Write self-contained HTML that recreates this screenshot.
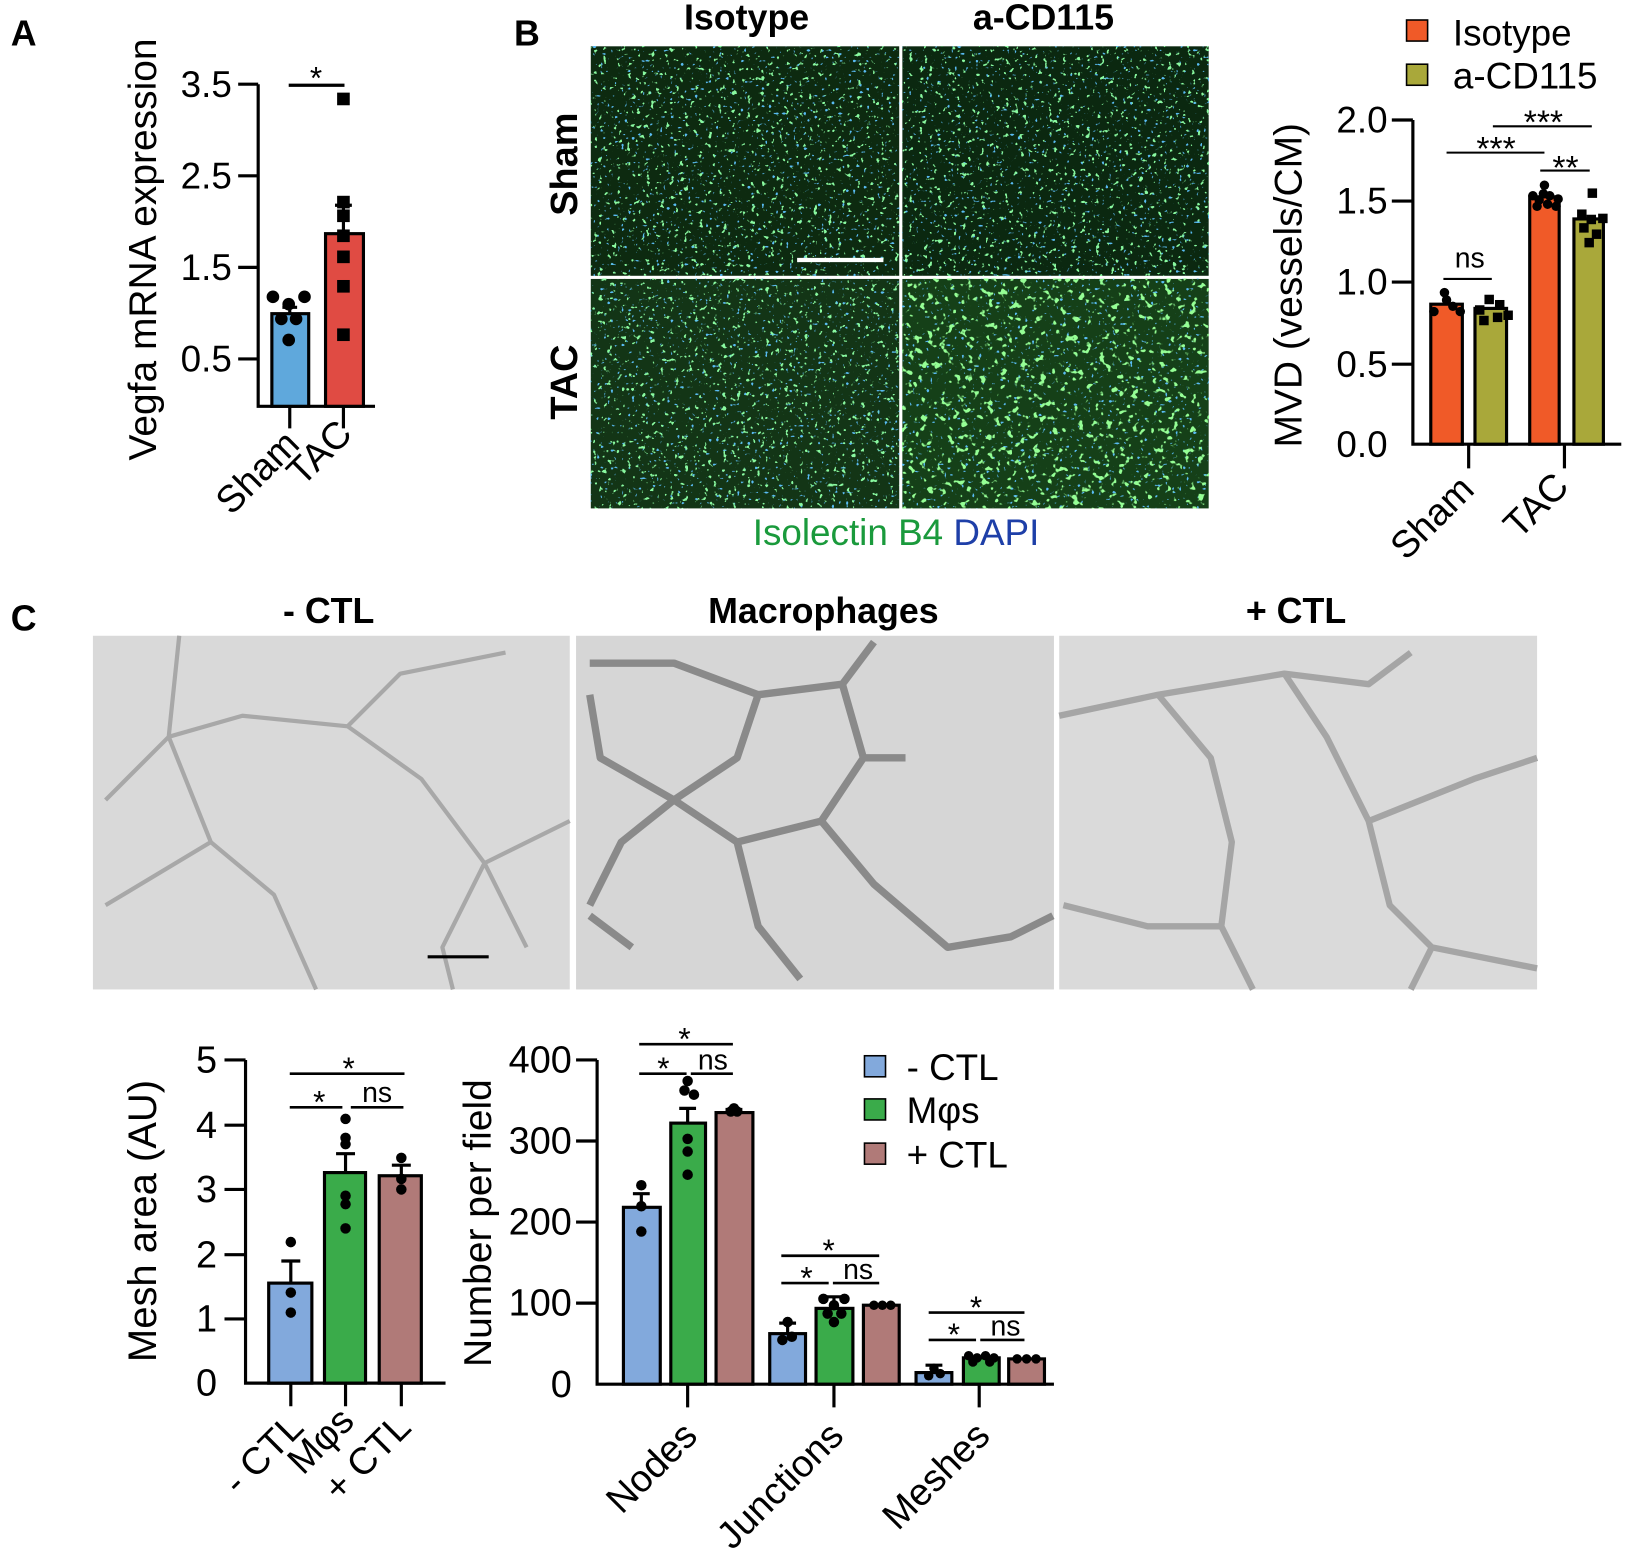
<!DOCTYPE html>
<html><head><meta charset="utf-8"><style>html,body{margin:0;padding:0;background:#fff}svg{display:block}</style></head>
<body>
<svg width="1650" height="1561" viewBox="0 0 1567 1483" xmlns="http://www.w3.org/2000/svg" font-family="Liberation Sans, Arial, sans-serif">
<defs>
<filter id="gs" x="0" y="0" width="100%" height="100%">
<feTurbulence type="fractalNoise" baseFrequency="0.22" numOctaves="2" seed="4"/>
<feColorMatrix type="matrix" values="0 0 0 0 0.25  0 0 0 0 0.95  0 0 0 0 0.35  16 0 0 0 -10.6"/>
</filter>
<filter id="bs" x="0" y="0" width="100%" height="100%">
<feTurbulence type="fractalNoise" baseFrequency="0.3" numOctaves="1" seed="9"/>
<feColorMatrix type="matrix" values="0 0 0 0 0.1  0 0 0 0 0.5  0 0 0 0 0.9  0 16 0 0 -10.8"/>
</filter>
<filter id="gs2" x="0" y="0" width="100%" height="100%">
<feTurbulence type="fractalNoise" baseFrequency="0.16" numOctaves="2" seed="7"/>
<feColorMatrix type="matrix" values="0 0 0 0 0.3  0 0 0 0 1  0 0 0 0 0.3  14 0 0 0 -8.6"/>
</filter>
</defs>
<rect width="1567" height="1483" fill="#fff"/>

<!-- Panel A -->
<text x="10" y="43" font-size="34" font-weight="bold">A</text>
<text transform="translate(148,237) rotate(-90)" text-anchor="middle" font-size="37">Vegfa mRNA expression</text>
<g font-size="35" text-anchor="end">
<text x="220" y="92">3.5</text><text x="220" y="179">2.5</text><text x="220" y="266">1.5</text><text x="220" y="353">0.5</text>
</g>
<g stroke="#000" stroke-width="3" fill="none">
<path d="M245 80 V386 H356"/>
<path d="M226 80H245M226 167H245M226 254H245M226 341H245"/>
<path d="M275 386V407M326 386V407"/>
<path d="M274 81H327"/>
</g>
<rect x="258" y="298" width="35" height="88" fill="#5fa8dc" stroke="#000" stroke-width="3"/>
<rect x="309" y="222" width="36" height="164" fill="#e04b43" stroke="#000" stroke-width="3"/>
<path d="M326 222V195M318 195H334M275 298V292M268 292H282" stroke="#000" stroke-width="3"/>
<g fill="#000">
<circle cx="259" cy="282" r="6"/><circle cx="289" cy="282" r="6"/><circle cx="274" cy="289" r="6"/><circle cx="267" cy="303" r="6"/><circle cx="281" cy="303" r="6"/><circle cx="274" cy="323" r="6"/>
<rect x="320" y="88" width="12" height="12"/><rect x="320" y="186" width="12" height="12"/><rect x="320" y="199" width="12" height="12"/><rect x="320" y="218" width="12" height="12"/><rect x="320" y="238" width="12" height="12"/><rect x="320" y="266" width="12" height="12"/><rect x="320" y="312" width="12" height="12"/>
</g>
<text x="300" y="84" font-size="30" text-anchor="middle">*</text>
<text transform="translate(286,424) rotate(-45)" text-anchor="end" font-size="36">Sham</text>
<text transform="translate(336,414) rotate(-45)" text-anchor="end" font-size="36">TAC</text>

<!-- Panel B images -->
<text x="488" y="43" font-size="34" font-weight="bold">B</text>
<text x="709" y="28" font-size="34" font-weight="bold" text-anchor="middle">Isotype</text>
<text x="991" y="28" font-size="34" font-weight="bold" text-anchor="middle">a-CD115</text>
<text transform="translate(548,156) rotate(-90)" text-anchor="middle" font-size="36" font-weight="bold">Sham</text>
<text transform="translate(548,363) rotate(-90)" text-anchor="middle" font-size="36" font-weight="bold">TAC</text>
<g>
<rect x="561" y="44" width="293" height="218" fill="#0d2a10"/>
<rect x="561" y="44" width="293" height="218" filter="url(#bs)"/>
<rect x="561" y="44" width="293" height="218" filter="url(#gs)"/>
<rect x="857" y="44" width="291" height="218" fill="#0b2810"/>
<rect x="857" y="44" width="291" height="218" filter="url(#bs)"/>
<rect x="857" y="44" width="291" height="218" filter="url(#gs)"/>
<rect x="561" y="265" width="293" height="218" fill="#133516"/>
<rect x="561" y="265" width="293" height="218" filter="url(#bs)"/>
<rect x="561" y="265" width="293" height="218" filter="url(#gs)"/>
<rect x="857" y="265" width="291" height="218" fill="#154018"/>
<rect x="857" y="265" width="291" height="218" filter="url(#bs)"/>
<rect x="857" y="265" width="291" height="218" filter="url(#gs2)"/>
<path d="M757 247H839" stroke="#fff" stroke-width="4"/>
</g>
<text x="851" y="518" font-size="35" text-anchor="middle"><tspan fill="#1a9a3c">Isolectin B4 </tspan><tspan fill="#1e3fa8">DAPI</tspan></text>

<!-- Panel B chart -->
<rect x="1336" y="19" width="20" height="20" fill="#f05a28" stroke="#000" stroke-width="1.5"/>
<rect x="1336" y="61" width="20" height="20" fill="#a9a83a" stroke="#000" stroke-width="1.5"/>
<text x="1380" y="43" font-size="35">Isotype</text>
<text x="1380" y="84" font-size="35">a-CD115</text>
<text transform="translate(1236,271) rotate(-90)" text-anchor="middle" font-size="37">MVD (vessels/CM)</text>
<g font-size="35" text-anchor="end">
<text x="1318" y="126">2.0</text><text x="1318" y="203">1.5</text><text x="1318" y="280">1.0</text><text x="1318" y="358">0.5</text><text x="1318" y="434">0.0</text>
</g>
<g stroke="#000" stroke-width="3" fill="none">
<path d="M1342 114V422H1540"/>
<path d="M1322 114H1342M1322 191H1342M1322 268H1342M1322 346H1342"/>
<path d="M1395 422V445M1486 422V445"/>
</g>
<rect x="1359" y="289" width="30" height="133" fill="#f05a28" stroke="#000" stroke-width="3"/>
<rect x="1401" y="293" width="30" height="129" fill="#a9a83a" stroke="#000" stroke-width="3"/>
<rect x="1453" y="187" width="28" height="235" fill="#f05a28" stroke="#000" stroke-width="3"/>
<rect x="1495" y="208" width="28" height="214" fill="#a9a83a" stroke="#000" stroke-width="3"/>
<g fill="#000">
<circle cx="1362" cy="296" r="4.5"/><circle cx="1374" cy="285" r="4.5"/><circle cx="1380" cy="291" r="4.5"/><circle cx="1387" cy="296" r="4.5"/><circle cx="1372" cy="278" r="4.5"/>
<rect x="1401" y="290" width="9" height="9"/><rect x="1410" y="280" width="9" height="9"/><rect x="1420" y="285" width="9" height="9"/><rect x="1428" y="295" width="9" height="9"/><rect x="1405" y="300" width="9" height="9"/><rect x="1418" y="297" width="9" height="9"/>
<circle cx="1467" cy="176" r="4.5"/><circle cx="1456" cy="186" r="4.5"/><circle cx="1462" cy="190" r="4.5"/><circle cx="1472" cy="186" r="4.5"/><circle cx="1480" cy="189" r="4.5"/><circle cx="1460" cy="196" r="4.5"/><circle cx="1470" cy="194" r="4.5"/><circle cx="1478" cy="196" r="4.5"/><circle cx="1466" cy="184" r="4.5"/>
<rect x="1508" y="179" width="9" height="9"/><rect x="1498" y="199" width="9" height="9"/><rect x="1507" y="204" width="9" height="9"/><rect x="1518" y="203" width="9" height="9"/><rect x="1500" y="212" width="9" height="9"/><rect x="1512" y="218" width="9" height="9"/><rect x="1505" y="226" width="9" height="9"/>
</g>
<g stroke="#000" stroke-width="2" fill="none">
<path d="M1371 265H1417M1374 145H1467M1418 120H1512M1463 162H1510"/>
</g>
<g font-size="27" text-anchor="middle">
<text x="1396" y="254">ns</text>
<text x="1421" y="152" font-size="32">***</text>
<text x="1466" y="127" font-size="32">***</text>
<text x="1487" y="170" font-size="32">**</text>
</g>
<text transform="translate(1402,467) rotate(-45)" text-anchor="end" font-size="36">Sham</text>
<text transform="translate(1492,464) rotate(-45)" text-anchor="end" font-size="36">TAC</text>

<!-- Panel C images -->
<text x="10" y="599" font-size="34" font-weight="bold">C</text>
<text x="312" y="592" font-size="34" font-weight="bold" text-anchor="middle">- CTL</text>
<text x="782" y="592" font-size="34" font-weight="bold" text-anchor="middle">Macrophages</text>
<text x="1231" y="592" font-size="34" font-weight="bold" text-anchor="middle">+ CTL</text>
<rect x="88" y="604" width="453" height="336" fill="#d9d9d9"/>
<rect x="547" y="604" width="454" height="336" fill="#d6d6d6"/>
<rect x="1006" y="604" width="454" height="336" fill="#dadada"/>
<g fill="none" stroke="#a8a8a8" stroke-width="4" stroke-linejoin="round">
<path d="M170 604L160 700L100 760M160 700L230 680L330 690L400 740L460 820L500 900M330 690L380 640L480 620M160 700L200 800L260 850L300 940M460 820L541 780M460 820L420 900L430 940M100 860L200 800"/>
</g>
<g fill="none" stroke="#8a8a8a" stroke-width="7" stroke-linejoin="round">
<path d="M560 630L640 630L720 660L800 650L830 610M720 660L700 720L640 760L570 720L560 660M640 760L590 800L560 860M640 760L700 800L780 780L820 720L800 650M780 780L830 840L900 900L960 890L1000 870M820 720L860 720M700 800L720 880L760 930M600 900L560 870"/>
</g>
<g fill="none" stroke="#a5a5a5" stroke-width="6" stroke-linejoin="round">
<path d="M1006 680L1100 660L1220 640L1300 650L1340 620M1100 660L1150 720L1170 800L1160 880L1190 940M1220 640L1260 700L1300 780L1320 860L1360 900L1460 920M1300 780L1400 740L1460 720M1010 860L1090 880L1160 880M1360 900L1340 940"/>
</g>
<path d="M406 909H464" stroke="#000" stroke-width="3"/>

<!-- Mesh area chart -->
<text transform="translate(148,1160) rotate(-90)" text-anchor="middle" font-size="38">Mesh area (AU)</text>
<g font-size="36" text-anchor="end">
<text x="206" y="1019">5</text><text x="206" y="1081">4</text><text x="206" y="1142">3</text><text x="206" y="1204">2</text><text x="206" y="1265">1</text><text x="206" y="1326">0</text>
</g>
<g stroke="#000" stroke-width="3" fill="none">
<path d="M233 1007V1314H423"/>
<path d="M213 1007H233M213 1069H233M213 1130H233M213 1192H233M213 1253H233"/>
<path d="M276 1314V1336M328 1314V1336M381 1314V1336"/>
</g>
<rect x="255" y="1219" width="41" height="95" fill="#82a9dc" stroke="#000" stroke-width="3"/>
<rect x="308" y="1114" width="39" height="200" fill="#3aab4a" stroke="#000" stroke-width="3"/>
<rect x="360" y="1117" width="40" height="197" fill="#b07a78" stroke="#000" stroke-width="3"/>
<path d="M276 1219V1198M267 1198H285M328 1114V1096M319 1096H337M381 1117V1107M372 1107H390" stroke="#000" stroke-width="3"/>
<g fill="#000">
<circle cx="276" cy="1180" r="5"/><circle cx="276" cy="1228" r="5"/><circle cx="276" cy="1247" r="5"/>
<circle cx="328" cy="1063" r="5"/><circle cx="328" cy="1081" r="5"/><circle cx="328" cy="1087" r="5"/><circle cx="328" cy="1136" r="5"/><circle cx="328" cy="1144" r="5"/><circle cx="328" cy="1167" r="5"/>
<circle cx="381" cy="1100" r="5"/><circle cx="381" cy="1120" r="5"/><circle cx="381" cy="1130" r="5"/>
</g>
<path d="M275 1020H384M275 1052H325M333 1052H383" stroke="#000" stroke-width="2.5"/>
<g font-size="30" text-anchor="middle"><text x="331" y="1025">*</text><text x="303" y="1057">*</text><text x="358" y="1047" font-size="27">ns</text></g>
<text transform="translate(290,1358) rotate(-45)" text-anchor="end" font-size="36">- CTL</text>
<text transform="translate(338,1352) rotate(-45)" text-anchor="end" font-size="36">Mφs</text>
<text transform="translate(392,1358) rotate(-45)" text-anchor="end" font-size="36">+ CTL</text>

<!-- Number per field chart -->
<text transform="translate(466,1162) rotate(-90)" text-anchor="middle" font-size="37">Number per field</text>
<g font-size="36" text-anchor="end">
<text x="543" y="1019">400</text><text x="543" y="1096">300</text><text x="543" y="1173">200</text><text x="543" y="1250">100</text><text x="543" y="1327">0</text>
</g>
<g stroke="#000" stroke-width="3" fill="none">
<path d="M567 1007V1315H1001"/>
<path d="M547 1007H567M547 1084H567M547 1161H567M547 1238H567"/>
<path d="M653 1315V1337M792 1315V1337M930 1315V1337"/>
</g>
<g stroke="#000" stroke-width="3">
<rect x="592" y="1147" width="35" height="168" fill="#82a9dc"/>
<rect x="637" y="1067" width="33" height="248" fill="#3aab4a"/>
<rect x="680" y="1057" width="35" height="258" fill="#b07a78"/>
<rect x="731" y="1267" width="34" height="48" fill="#82a9dc"/>
<rect x="775" y="1243" width="35" height="72" fill="#3aab4a"/>
<rect x="820" y="1240" width="34" height="75" fill="#b07a78"/>
<rect x="870" y="1304" width="34" height="11" fill="#82a9dc"/>
<rect x="915" y="1290" width="34" height="25" fill="#3aab4a"/>
<rect x="958" y="1291" width="34" height="24" fill="#b07a78"/>
<path d="M609 1147V1134M601 1134H617M653 1067V1053M645 1053H661M697 1057V1054M689 1054H705M748 1267V1257M740 1257H756M792 1243V1232M784 1232H800M887 1304V1297M879 1297H895" fill="none"/>
</g>
<g fill="#000">
<circle cx="609" cy="1126" r="5"/><circle cx="609" cy="1146" r="5"/><circle cx="609" cy="1170" r="5"/>
<circle cx="653" cy="1027" r="5"/><circle cx="659" cy="1040" r="5"/><circle cx="650" cy="1036" r="5"/><circle cx="653" cy="1082" r="5"/><circle cx="653" cy="1094" r="5"/><circle cx="653" cy="1116" r="5"/>
<circle cx="694" cy="1056" r="5"/><circle cx="700" cy="1056" r="5"/><circle cx="697" cy="1053" r="5"/>
<circle cx="748" cy="1256" r="5"/><circle cx="743" cy="1273" r="5"/><circle cx="752" cy="1270" r="5"/>
<circle cx="782" cy="1234" r="5"/><circle cx="802" cy="1234" r="5"/><circle cx="792" cy="1240" r="5"/><circle cx="786" cy="1248" r="5"/><circle cx="799" cy="1248" r="5"/><circle cx="792" cy="1256" r="5"/>
<circle cx="830" cy="1240" r="4.5"/><circle cx="838" cy="1240" r="4.5"/><circle cx="846" cy="1240" r="4.5"/>
<circle cx="887" cy="1300" r="4.5"/><circle cx="882" cy="1307" r="4.5"/><circle cx="893" cy="1305" r="4.5"/>
<circle cx="920" cy="1288" r="4.5"/><circle cx="928" cy="1290" r="4.5"/><circle cx="936" cy="1288" r="4.5"/><circle cx="944" cy="1290" r="4.5"/><circle cx="924" cy="1294" r="4.5"/><circle cx="940" cy="1294" r="4.5"/>
<circle cx="966" cy="1291" r="4.5"/><circle cx="975" cy="1291" r="4.5"/><circle cx="984" cy="1291" r="4.5"/>
</g>
<path d="M607 992H696M607 1020H652M656 1020H696M742 1193H835M742 1219H787M791 1219H835M882 1247H973M882 1273H927M931 1273H973" stroke="#000" stroke-width="2.5"/>
<g font-size="30" text-anchor="middle">
<text x="650" y="997">*</text><text x="630" y="1025">*</text><text x="677" y="1016" font-size="27">ns</text>
<text x="787" y="1198">*</text><text x="766" y="1224">*</text><text x="815" y="1215" font-size="27">ns</text>
<text x="927" y="1252">*</text><text x="906" y="1278">*</text><text x="955" y="1269" font-size="27">ns</text>
</g>
<text transform="translate(664,1366) rotate(-45)" text-anchor="end" font-size="36">Nodes</text>
<text transform="translate(803,1366) rotate(-45)" text-anchor="end" font-size="36">Junctions</text>
<text transform="translate(942,1366) rotate(-45)" text-anchor="end" font-size="36">Meshes</text>
<rect x="821" y="1003" width="20" height="20" fill="#82a9dc" stroke="#000" stroke-width="1.5"/>
<rect x="821" y="1044" width="20" height="20" fill="#3aab4a" stroke="#000" stroke-width="1.5"/>
<rect x="821" y="1086" width="20" height="20" fill="#b07a78" stroke="#000" stroke-width="1.5"/>
<text x="861" y="1026" font-size="35">- CTL</text>
<text x="861" y="1067" font-size="35">Mφs</text>
<text x="861" y="1109" font-size="35">+ CTL</text>
</svg>
</body></html>
